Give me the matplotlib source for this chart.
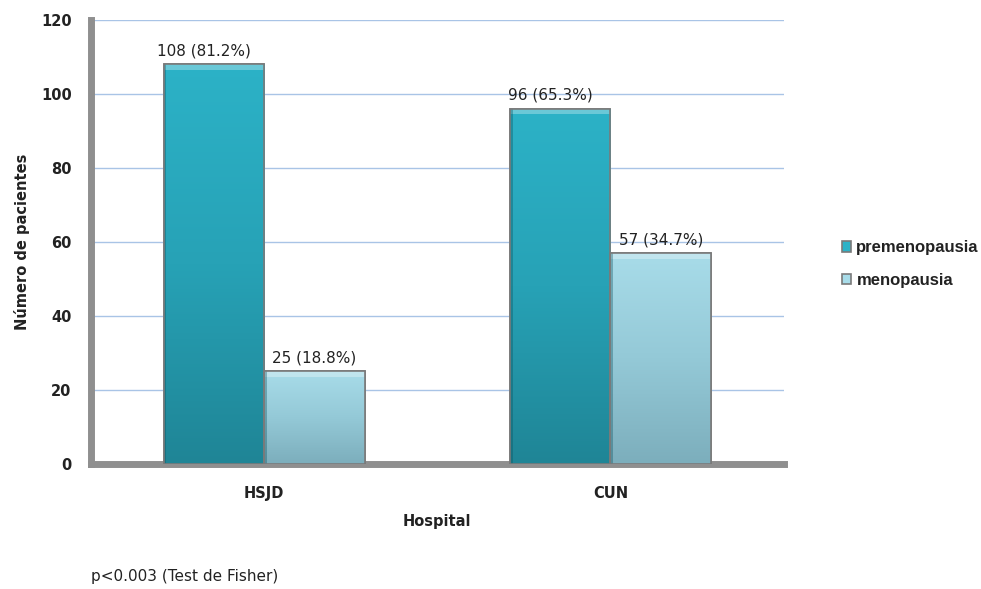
import numpy as np
import matplotlib.pyplot as plt
from matplotlib.colors import LinearSegmentedColormap
from matplotlib.patches import Rectangle

plt.rcParams['font.family'] = ['DejaVu Sans']

hospitals = ["HSJD", "CUN"]
series_names = ["premenopausia", "menopausia"]
premenopausia = [108, 96]
menopausia = [25, 57]
premeno_pct = [81.2, 65.3]
meno_pct = [18.8, 34.7]
yticks = [0, 20, 40, 60, 80, 100, 120]

fig = plt.figure(figsize=(9.81, 5.89), dpi=100)
ax = fig.add_axes([0.0928, 0.2122, 0.706, 0.754])

x = np.arange(len(hospitals))
w = 0.29

top_cols = ["#2cb2c7", "#a8dce9"]
mid_cols = ["#27a2b6", "#94c9d7"]
bot_cols = ["#1f8596", "#7caebc"]
label_shift = [-0.03, 0.0]

ax.set_xlim(-0.5, 1.5)
ax.set_ylim(0, 120)

for i, (vals, pcts) in enumerate([(premenopausia, premeno_pct), (menopausia, meno_pct)]):
    offs = -w / 2 if i == 0 else w / 2
    bars = ax.bar(x + offs, vals, w, color=top_cols[i], edgecolor="#7a7a7a",
                  linewidth=1.2, zorder=3, label=series_names[i])
    cmap = LinearSegmentedColormap.from_list(
        "g%d" % i, [bot_cols[i], mid_cols[i], top_cols[i]])
    for b, v, p in zip(bars, vals, pcts):
        x0, x1 = b.get_x(), b.get_x() + b.get_width()
        grad = np.linspace(0, 1, 256).reshape(-1, 1)
        im = ax.imshow(grad, cmap=cmap, origin="lower", aspect="auto",
                       extent=(x0, x1, 0, v), zorder=3.5)
        im.set_clip_path(b)
        # highlight strip along the top edge
        ax.add_patch(Rectangle((x0, v - 1.5), x1 - x0, 1.5, color="white",
                               alpha=0.3, lw=0, zorder=3.6))
        # darker shading along the left edge
        ax.add_patch(Rectangle((x0, 0), (x1 - x0) * 0.025, v, color="#0b4f5c",
                               alpha=0.35, lw=0, zorder=3.6))
        ax.add_patch(Rectangle((x0, 0), x1 - x0, v, fill=False,
                               edgecolor="#7a7a7a", lw=1.2, zorder=3.8))
        ax.text(b.get_x() + b.get_width() / 2 + label_shift[i], v + 1.6,
                f"{v} ({p}%)", ha="center", va="bottom", fontsize=11,
                color="#222222", zorder=5)

ax.set_xlim(-0.5, 1.5)
ax.set_ylim(0, 120)
ax.set_yticks(yticks)
ax.set_xticks(x)
ax.set_xticklabels(hospitals)
ax.grid(axis="y", color="#a9c4e6", linewidth=1.0, zorder=0)
ax.tick_params(length=0, labelsize=10.5)
ax.tick_params(axis="y", pad=14)
ax.tick_params(axis="x", pad=16)
for lab in ax.get_xticklabels() + ax.get_yticklabels():
    lab.set_fontweight("bold")
    lab.set_color("#222222")

for s in ["top", "right"]:
    ax.spines[s].set_visible(False)
ax.spines["left"].set_color("#8f8f8f")
ax.spines["left"].set_linewidth(5)
ax.spines["bottom"].set_color("#8f8f8f")
ax.spines["bottom"].set_linewidth(5)

ax.set_ylabel("Número de pacientes", fontsize=10.5, fontweight="bold",
              color="#222222", labelpad=8)
ax.set_xlabel("Hospital", fontsize=10.5, fontweight="bold", color="#222222",
              labelpad=9)

leg = ax.legend(loc="center left", bbox_to_anchor=(1.063, 0.45), frameon=False,
                prop={"family": "Liberation Sans", "weight": "bold", "size": 12},
                handlelength=0.55, handleheight=0.55,
                handletextpad=0.3, labelspacing=1.05)
for t in leg.get_texts():
    t.set_color("#222222")

fig.text(91 / 981, 1 - 577 / 589, "p<0.003 (Test de Fisher)", fontsize=11,
         color="#222222", va="center", ha="left")

fig.savefig("out.png", dpi=100)
